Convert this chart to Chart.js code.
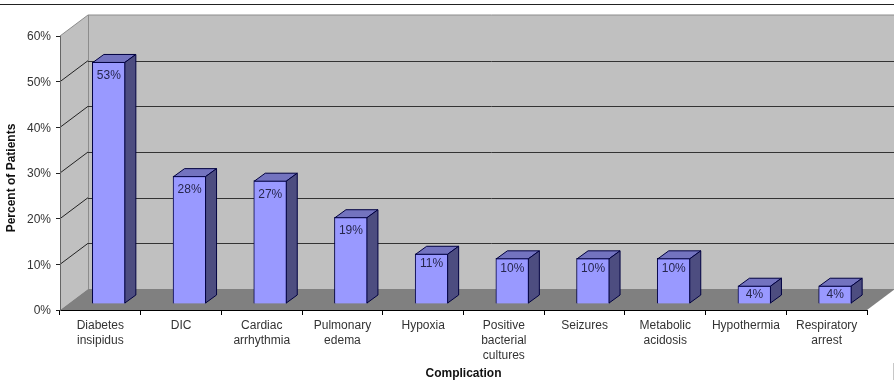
<!DOCTYPE html>
<html>
<head>
<meta charset="utf-8">
<style>
html,body{margin:0;padding:0;background:#fff;}
#wrap{position:relative;width:894px;height:380px;}
canvas{display:block;}
</style>
<script src="https://cdn.jsdelivr.net/npm/chart.js@4"></script>
</head>
<body>
<div id="wrap"><canvas id="c" width="894" height="380"></canvas></div>
<script>
const categories = [
  ["Diabetes","insipidus"], "DIC", ["Cardiac","arrhythmia"], ["Pulmonary","edema"], "Hypoxia",
  ["Positive","bacterial","cultures"], "Seizures", ["Metabolic","acidosis"], "Hypothermia", ["Respiratory","arrest"]
];
const percentOfPatients = [53, 28, 27, 19, 11, 10, 10, 10, 4, 4];
const yTicks = [0, 10, 20, 30, 40, 50, 60];
const xTitle = "Complication";
const yTitle = "Percent of Patients";

const FONT = '"Liberation Sans", Arial, sans-serif';
const WALL_DX = 28, WALL_DY = 21;   // depth of the box
const BAR_DX = 8.5, BAR_DY = 6;     // where bars stand inside the box
const SIDE_DX = 11, SIDE_DY = 8;    // depth of each bar

function poly(ctx, pts, fill, stroke, lw) {
  ctx.beginPath();
  pts.forEach((p, i) => i ? ctx.lineTo(p[0], p[1]) : ctx.moveTo(p[0], p[1]));
  ctx.closePath();
  if (fill) { ctx.fillStyle = fill; ctx.fill(); }
  if (stroke) { ctx.strokeStyle = stroke; ctx.lineWidth = lw || 1; ctx.stroke(); }
}

const box3d = {
  id: 'box3d',
  beforeDraw(chart) {
    const { ctx, scales: { y }, chartArea: a } = chart;
    const L = a.left, R = a.right, T = y.getPixelForValue(60), B = y.getPixelForValue(0);
    const dx = WALL_DX, dy = WALL_DY;
    ctx.save();
    // frame rule along the top of the picture and stub at bottom right
    ctx.fillStyle = '#222';
    ctx.fillRect(0, 4, chart.width, 1);
    ctx.fillStyle = '#c8c8c8';
    ctx.fillRect(893, 363, 1, 17);
    // walls
    poly(ctx, [[L+dx,T-dy],[R+dx,T-dy],[R+dx,B-dy],[L+dx,B-dy]], '#c0c0c0');
    poly(ctx, [[L,T],[L+dx,T-dy],[L+dx,B-dy],[L,B]], '#c0c0c0');
    poly(ctx, [[L,B],[R,B],[R+dx,B-dy],[L+dx,B-dy]], '#808080');
    // wall edges
    ctx.strokeStyle = '#8c8c8c';
    ctx.lineWidth = 1;
    ctx.beginPath();
    ctx.moveTo(L+dx+0.5, B-dy); ctx.lineTo(L+dx+0.5, T-dy);
    ctx.moveTo(L, T); ctx.lineTo(L+dx, T-dy); ctx.lineTo(R+dx, T-dy);
    ctx.stroke();
    // gridlines on left wall and back wall
    yTicks.forEach(v => {
      if (v === 0 || v === 60) return;
      const py = y.getPixelForValue(v);
      ctx.strokeStyle = '#222';
      ctx.beginPath();
      ctx.moveTo(L, py); ctx.lineTo(L+dx, py-dy);
      ctx.stroke();
      ctx.strokeStyle = '#333';
      ctx.beginPath();
      ctx.moveTo(L+dx, Math.round(py-dy)+0.5); ctx.lineTo(R+dx, Math.round(py-dy)+0.5);
      ctx.stroke();
    });
    ctx.restore();
  },
  beforeDatasetsDraw(chart) {
    chart.ctx.save();
    chart.ctx.translate(BAR_DX, -BAR_DY);
  },
  afterDatasetsDraw(chart) {
    const ctx = chart.ctx;
    const meta = chart.getDatasetMeta(0);
    meta.data.forEach((bar, i) => {
      const l = bar.x - bar.width/2 + 0.5, r = bar.x + bar.width/2 - 0.5;
      const t = bar.y + 0.5, b = bar.base - 0.5;
      ctx.lineJoin = 'round';
      poly(ctx, [[l,t],[r,t],[r+SIDE_DX,t-SIDE_DY],[l+SIDE_DX,t-SIDE_DY]], '#7373bf', '#000040');
      poly(ctx, [[r,t],[r+SIDE_DX,t-SIDE_DY],[r+SIDE_DX,b-SIDE_DY],[r,b]], '#4d4d80', '#000040');
      // value label, inside the front face near its top
      const h = bar.base - bar.y;
      ctx.fillStyle = '#26264d';
      ctx.font = '12px ' + FONT;
      ctx.textAlign = 'center';
      ctx.textBaseline = 'middle';
      ctx.fillText(percentOfPatients[i] + '%', bar.x, bar.y + (h < 50 ? Math.min(10, h/2) : 13.5));
    });
    ctx.restore();
    // y axis title
    const yS = chart.scales.y;
    ctx.save();
    ctx.translate(12, yS.getPixelForValue(30) + 5);
    ctx.rotate(-Math.PI/2);
    ctx.fillStyle = '#111';
    ctx.font = 'bold 12px ' + FONT;
    ctx.textAlign = 'center';
    ctx.textBaseline = 'middle';
    ctx.fillText(yTitle, 0, 0);
    ctx.restore();
  }
};

new Chart(document.getElementById('c'), {
  type: 'bar',
  data: {
    labels: categories,
    datasets: [{
      label: yTitle,
      data: percentOfPatients,
      backgroundColor: '#9999ff',
      borderColor: '#000040',
      borderWidth: 1,
      barThickness: 33
    }]
  },
  plugins: [box3d],
  options: {
    responsive: false,
    animation: false,
    events: [],
    layout: { padding: { top: 36, right: 27, left: 0, bottom: 0 } },
    plugins: { legend: { display: false }, tooltip: { enabled: false }, title: { display: false } },
    scales: {
      x: {
        afterFit(s) { s.height = 70; },
        grid: { display: true, drawOnChartArea: false, drawTicks: true, tickLength: 5, color: '#000', offset: true },
        border: { display: true, color: '#000', width: 1 },
        ticks: { color: '#333', font: { family: FONT, size: 12, lineHeight: 1.25 }, padding: 3, maxRotation: 0, minRotation: 0, autoSkip: false },
        title: { display: true, text: xTitle, color: '#111', font: { family: FONT, size: 12, weight: 'bold' }, padding: { top: 0, bottom: -1 } }
      },
      y: {
        min: 0, max: 60,
        afterFit(s) { s.width = 60; },
        afterBuildTicks(s) { s.ticks = yTicks.map(v => ({ value: v })); },
        grid: { display: true, drawOnChartArea: false, drawTicks: true, tickLength: 4, color: '#222' },
        border: { display: true, color: '#666', width: 1 },
        ticks: { color: '#333', font: { family: FONT, size: 12 }, padding: 5, labelOffset: 1, callback: v => v + '%' }
      }
    }
  }
});
</script>
</body>
</html>
